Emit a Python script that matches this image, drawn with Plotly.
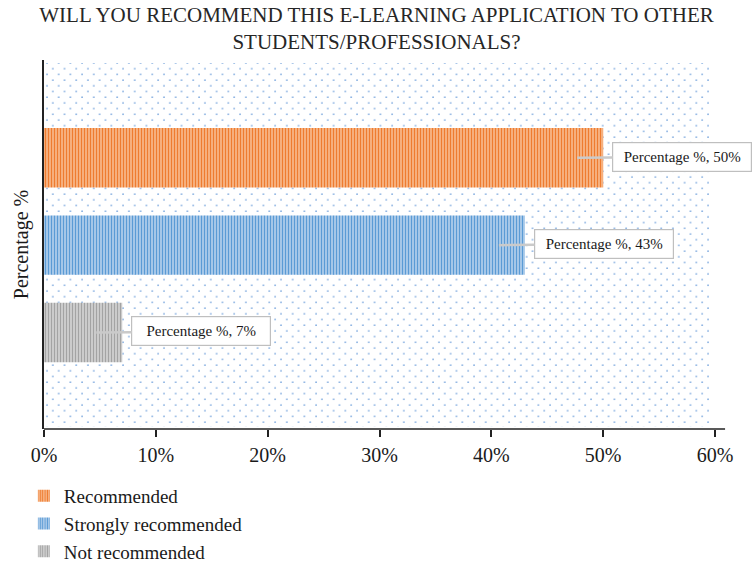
import plotly.graph_objects as go

# Survey answers and their shares (percent)
categories = ["Recommended", "Strongly recommended", "Not recommended"]
shares = [50, 43, 7]
x_ticks = [0, 10, 20, 30, 40, 50, 60]
x_tick_text = ["0%", "10%", "20%", "30%", "40%", "50%", "60%"]

# Stripe colours per answer: (solid, light)
stripe_colors = {
    "Recommended": ("#EE7C30", "#FAC8A2"),
    "Strongly recommended": ("#5B9BD5", "#C8DDF1"),
    "Not recommended": ("#A3A3A3", "#DEDEDE"),
}

FONT = "Liberation Serif"

fig = go.Figure()
for cat, val in zip(categories, shares):
    solid, light = stripe_colors[cat]
    fig.add_trace(go.Bar(
        x=[val], y=[cat], name=cat, orientation="h", width=0.68,
        marker=dict(
            color=solid,
            line=dict(width=0),
            pattern=dict(shape="|", fgcolor=solid, bgcolor=light,
                         size=3, solidity=0.55, fillmode="replace"),
        ),
        hoverinfo="skip",
    ))
    fig.add_annotation(
        x=val, y=cat, xref="x", yref="y", xshift=-26,
        text=f"Percentage %, {val}%",
        showarrow=True, arrowhead=0, arrowwidth=2.5, arrowcolor="#CACACA",
        ax=105, ay=-1, axref="pixel", ayref="pixel",
        bgcolor="white", bordercolor="#BFBFBF", borderwidth=1.2,
        borderpad=4, width=130, height=20,
        font=dict(family=FONT, size=15, color="#1a1a1a"),
    )

# Dotted fill for the plotting area (staggered light-blue dots)
dots_svg = (
    "<svg xmlns='http://www.w3.org/2000/svg' width='671' height='369'>"
    "<defs><pattern id='d' width='11.7' height='11.4' patternUnits='userSpaceOnUse'>"
    "<circle cx='3' cy='3' r='0.9' fill='%2382ADE0'/>"
    "<circle cx='8.85' cy='8.7' r='0.9' fill='%2382ADE0'/>"
    "</pattern></defs>"
    "<rect x='0' y='3' width='668' height='364' fill='url(%23d)'/></svg>"
)

fig.update_layout(
    width=753, height=567,
    margin=dict(l=44, r=38, t=60, b=138, autoexpand=False),
    paper_bgcolor="white", plot_bgcolor="rgba(0,0,0,0)",
    font=dict(family=FONT, size=20, color="#1a1a1a"),
    title=dict(
        text="WILL YOU RECOMMEND THIS E-LEARNING APPLICATION TO OTHER<br>STUDENTS/PROFESSIONALS?",
        x=0.5, xanchor="center", yref="container", y=0.961, yanchor="top",
        font=dict(family=FONT, size=21, color="#262626"),
    ),
    barmode="overlay",
    showlegend=True,
    legend=dict(
        orientation="v", x=-0.03, xanchor="left", y=-0.13, yanchor="top",
        font=dict(family=FONT, size=19, color="#1a1a1a"),
        bgcolor="rgba(0,0,0,0)", traceorder="normal",
    ),
    images=[dict(
        source="data:image/svg+xml;utf8," + dots_svg,
        xref="paper", yref="paper", x=0, y=1, sizex=1, sizey=1,
        xanchor="left", yanchor="top", sizing="stretch", layer="below",
    )],
    shapes=[dict(
        type="line", xref="paper", yref="paper", x0=0, x1=1.015, y0=0, y1=0,
        line=dict(color="#222222", width=1.5),
    )],
)

fig.update_xaxes(
    range=[0, 60], tickvals=x_ticks, ticktext=x_tick_text,
    showgrid=False, zeroline=False, showline=False,
    ticks="outside", ticklen=7, tickwidth=2, tickcolor="#222222",
    ticklabelstandoff=1,
    tickfont=dict(family=FONT, size=20, color="#1a1a1a"),
)
fig.update_yaxes(
    type="category", categoryorder="array", categoryarray=categories,
    range=[3.105, -1.12],
    showticklabels=False, showgrid=False, zeroline=False,
    showline=True, linecolor="#222222", linewidth=1.5,
    title=dict(text="Percentage %", standoff=8,
               font=dict(family=FONT, size=20, color="#1a1a1a")),
)

fig.write_html("out.html")
